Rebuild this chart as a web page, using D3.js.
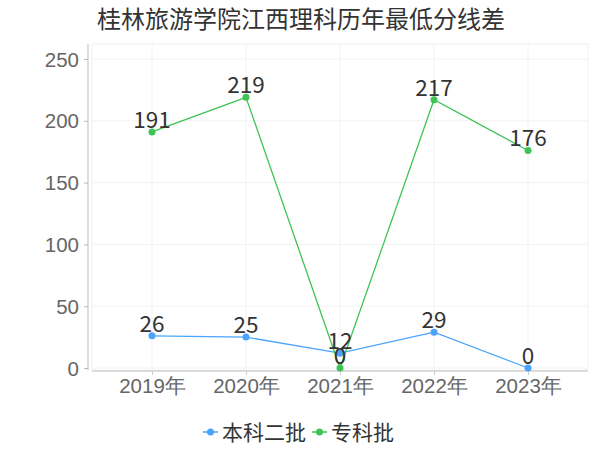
<!DOCTYPE html>
<html><head><meta charset="utf-8">
<script src="https://cdn.jsdelivr.net/npm/d3@7"></script>
<style>body{margin:0;background:#fff}svg{display:block;font-family:"Noto Sans CJK SC","Noto Sans",sans-serif}</style>
</head><body><svg id="c" width="600" height="450"></svg>
<script>
const title = "桂林旅游学院江西理科历年最低分线差";
const categories = ["2019年","2020年","2021年","2022年","2023年"];
const seriesNames = ["本科二批","专科批"];
const benke2 = [26,25,12,29,0];
const zhuanke = [191,219,0,217,176];
const yTicks = [0,50,100,150,200,250];
const colors = ["#4aa4fc","#3ec455"];

const svg = d3.select("#c");
const L = 92, R = 588, T = 44, B = 370;
const x = d3.scalePoint().domain(categories).range([105,575]).padding(0.5);
const y = d3.scaleLinear().domain([0,250]).range([368,59]);

// plot background grid
const g = svg.append("g");
g.append("rect").attr("x",L).attr("y",T).attr("width",R-L).attr("height",B-T)
 .attr("fill","none").attr("stroke","#f2f2f2");
g.selectAll(".hg").data(yTicks).enter().append("line")
 .attr("x1",L).attr("x2",R).attr("y1",d=>y(d)).attr("y2",d=>y(d)).attr("stroke","#f2f2f2");
g.selectAll(".vg").data(categories).enter().append("line")
 .attr("x1",d=>x(d)).attr("x2",d=>x(d)).attr("y1",T).attr("y2",B).attr("stroke","#f2f2f2");

// y axis
const ya = svg.append("g").attr("transform","translate(88,0)")
 .call(d3.axisLeft(y).tickValues(yTicks).tickSize(4).tickPadding(5));
ya.select(".domain").attr("d",`M0,${T}V${B}`).attr("stroke","#bbb");
ya.selectAll(".tick line").attr("stroke","#bbb");
ya.selectAll("text").attr("font-size",20.5).attr("fill","#666").attr("dy","0.35em");

// x axis
const xa = svg.append("g").attr("transform","translate(0,371)")
 .call(d3.axisBottom(x).tickSize(4).tickPadding(6));
xa.select(".domain").attr("d",`M${L},0H${R}`).attr("stroke","#bbb");
xa.selectAll(".tick line").attr("stroke","#ccc");
xa.selectAll("text").attr("font-size",20.5).attr("fill","#666").attr("dy","0.6em");

// title
svg.append("text").attr("x",301).attr("y",28).attr("text-anchor","middle")
 .attr("font-size",24).attr("fill","#333").text(title);

const series = [benke2, zhuanke];
const line = d3.line().x((d,i)=>x(categories[i])).y(d=>y(d));
series.forEach((vals,si)=>{
  const sg = svg.append("g");
  sg.append("path").datum(vals).attr("d",line).attr("fill","none")
    .attr("stroke",colors[si]).attr("stroke-width",1.3);
  sg.selectAll("circle").data(vals).enter().append("circle")
    .attr("cx",(d,i)=>x(categories[i])).attr("cy",d=>y(d)).attr("r",3.5).attr("fill",colors[si]);
});
series.forEach((vals,si)=>{
  svg.append("g").selectAll("text").data(vals).enter().append("text")
    .attr("x",(d,i)=>x(categories[i])).attr("y",d=>y(d)-4).attr("text-anchor","middle")
    .attr("font-size",22.5).attr("fill","#333").text(d=>d);
});

// legend
const leg = svg.append("g");
const legX = [203, 312];
seriesNames.forEach((n,i)=>{
  const lx = legX[i];
  leg.append("line").attr("x1",lx).attr("x2",lx+15).attr("y1",432).attr("y2",432)
    .attr("stroke",colors[i]).attr("stroke-width",1.5);
  leg.append("circle").attr("cx",lx+7.5).attr("cy",432).attr("r",3.5).attr("fill",colors[i]);
  leg.append("text").attr("x",lx+19).attr("y",440).attr("font-size",21).attr("fill","#333").text(n);
});
</script></body></html>
